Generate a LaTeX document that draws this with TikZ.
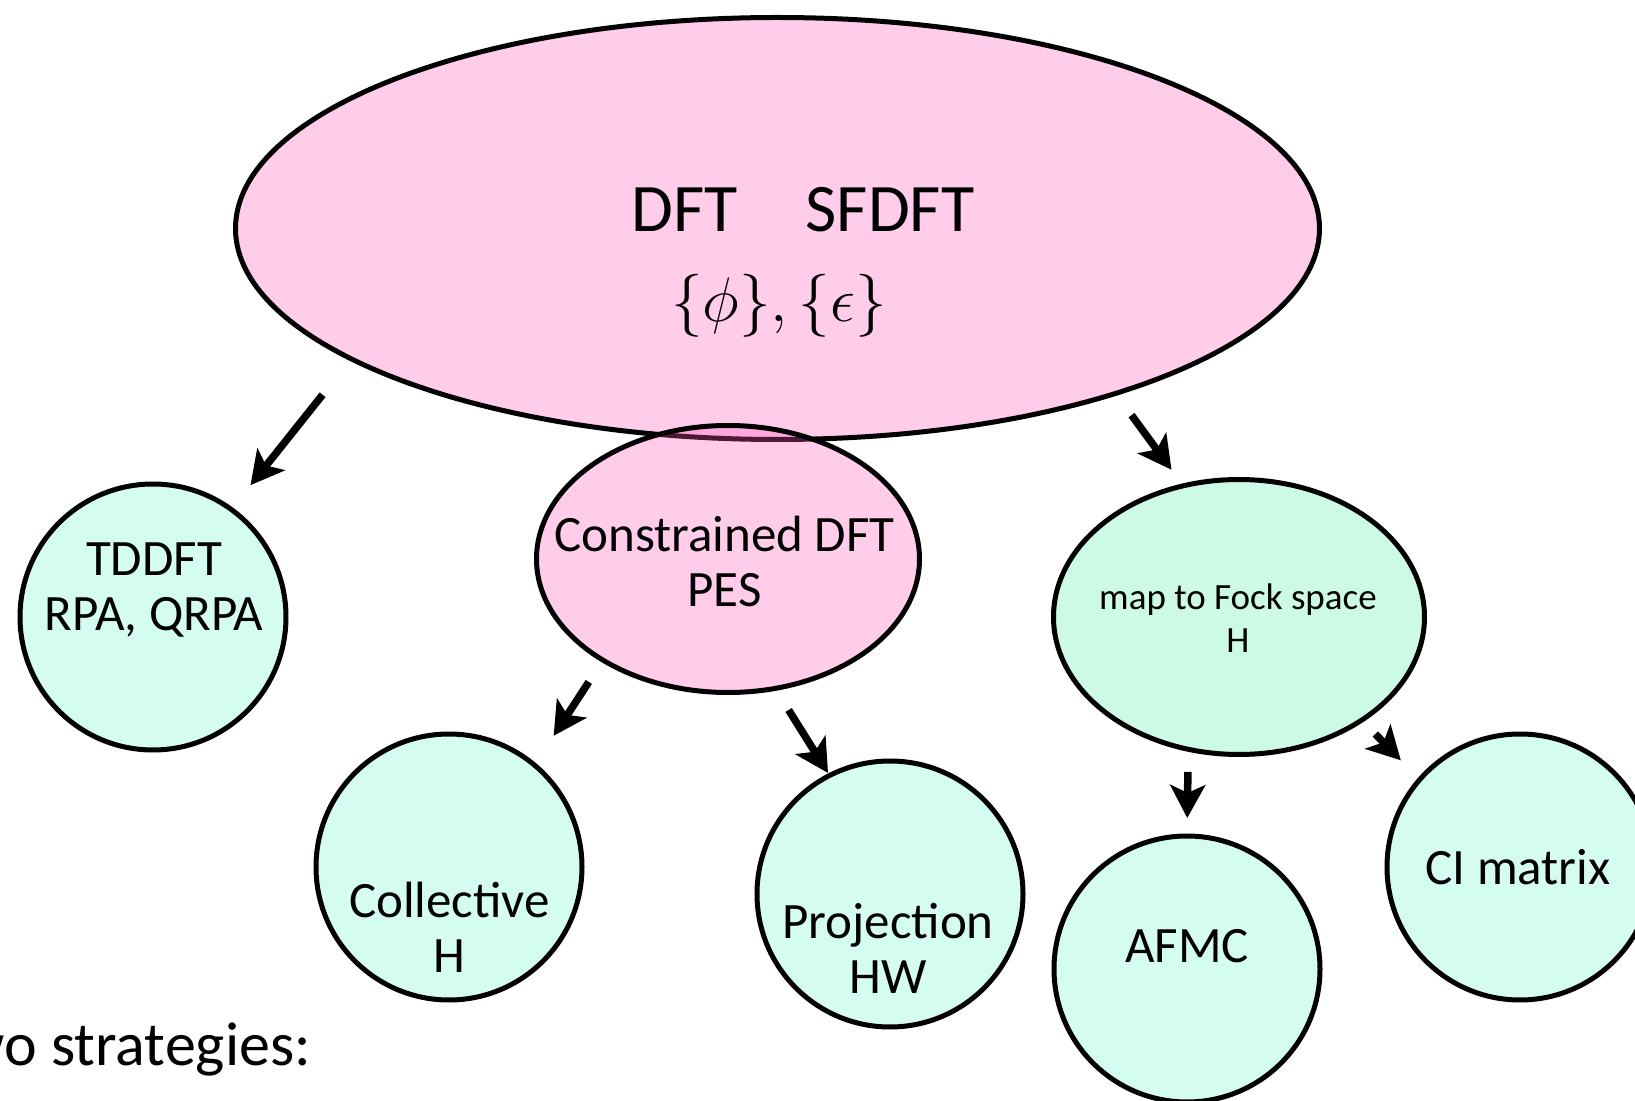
\documentclass[tikz,border=0pt]{standalone}
\usepackage{graphicx}
\usepackage{fontspec}
\setmainfont{Carlito}
\usetikzlibrary{arrows.meta,shapes.geometric}

\definecolor{dftpink}{RGB}{255,85,185}
\definecolor{mint}{RGB}{213,252,241}
\definecolor{fockmint}{RGB}{204,250,229}

\begin{document}
\begin{tikzpicture}[x=0.5pt, y=-0.5pt,
    blob/.style={draw, line width=2.5pt, ellipse, inner sep=0pt, outer sep=0pt},
    pinkblob/.style={blob, fill=dftpink, fill opacity=0.3},
    ball/.style={draw, line width=2.5pt, circle, inner sep=0pt, outer sep=0pt, fill=mint, minimum size=133pt},
    txt/.style={align=center, inner sep=0pt, font=\fontsize{25.5}{27.5}\selectfont},
    arr/.style={line width=3.75pt, -{Stealth[length=16.5pt, width=17.5pt, inset=4pt]}}]
        \useasboundingbox (0,0) rectangle (1635,1101);
        \clip (0,0) rectangle (1635,1101);

        % the bubbles
        \node (dft) at (777.5,228.5) [pinkblob, minimum width=542pt, minimum height=211pt] {};
        \node (cdft) at (728,559) [pinkblob, minimum width=191.5pt, minimum height=133.5pt] {};
        \node (tddft) at (153,617) [ball] {};
        \node (coll) at (449,867) [ball] {};
        \node (proj) at (890,894) [ball] {};
        \node (fock) at (1239,617) [blob, fill=fockmint, minimum width=185.5pt, minimum height=137.5pt] {};
        \node (afmc) at (1187,969) [ball] {};
        \node (ci) at (1520,867) [ball] {};

        % their texts
        \node (dft-t) at (803,210) [txt, font=\fontsize{34}{40}\selectfont] {DFT\quad SFDFT};
        \node (dft-m) at (779,306) [txt, font=\fontsize{24.88}{30}\selectfont] {\scalebox{1.266}{$\{\phi\}, \{\epsilon\}$}};
        \node (cdft-t) at (724.5,561) [txt] {Constrained DFT\\PES};
        \node (tddft-t) at (154,590) [txt] {TDDFT\\RPA, QRPA};
        \node (coll-t) at (449.5,927.5) [txt] {Collective\\H};
        \node (proj-t) at (888,948) [txt] {Projection\\HW};
        \node (fock-t) at (1238,618.5) [txt, font=\fontsize{18.5}{21.5}\selectfont] {map to Fock space\\H};
        \node (afmc-t) at (1187,946) [txt] {AFMC};
        \node (ci-t) at (1518,867) [txt] {CI matrix};
        \node (strat) at (318,1065) [anchor=base east, font=\fontsize{31}{36}\selectfont] {two strategies:};

        \draw [arr, shorten <=23pt, shorten >=15.5pt] (dft.197.7) -- (tddft.54.5);
        \draw [arr, shorten <=13.5pt, shorten >=10pt] (dft.334.9) -- (fock.113.3);
        \draw [arr, shorten <=13pt, shorten >=17.5pt] (cdft.219.7) -- (coll.50.1);
        \draw [arr, shorten <=12.75pt, shorten >=1.5pt] (cdft.290.2) -- (proj.117);
        \draw [arr, shorten <=11.3pt, shorten >=9pt] (fock.249.3) -- (afmc.90.8);
        \draw [arr, shorten <=9.7pt, shorten >=13.5pt] (fock.320.9) -- (ci.139.4);
\end{tikzpicture}
\end{document}
